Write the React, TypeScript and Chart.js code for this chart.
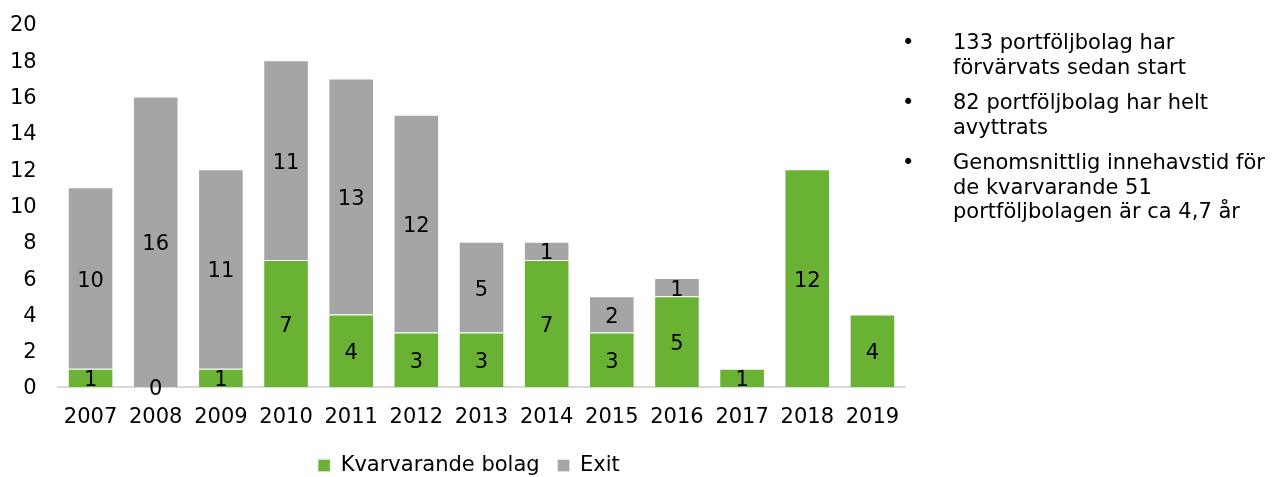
import React, { useEffect, useRef } from "react";
import { Chart, registerables } from "chart.js";

Chart.register(...registerables);

const years = ["2007", "2008", "2009", "2010", "2011", "2012", "2013", "2014", "2015", "2016", "2017", "2018", "2019"];
const kvarvarande = [1, 0, 1, 7, 4, 3, 3, 7, 3, 5, 1, 12, 4];
const exits: (number | null)[] = [10, 16, 11, 11, 13, 12, 5, 1, 2, 1, null, null, null];
const yMin = 0;
const yMax = 20;
const yStep = 2;
const bullets: string[][] = [
  ["133 portföljbolag har", "förvärvats sedan start"],
  ["82 portföljbolag har helt", "avyttrats"],
  ["Genomsnittlig innehavstid för", "de kvarvarande 51", "portföljbolagen är ca 4,7 år"],
];

const FONT = "'DejaVu Sans', Verdana, sans-serif";
const FS = 21;
const GREEN = "#6AB234";
const GREY = "#A5A5A5";

const valueLabels = {
  id: "valueLabels",
  afterDatasetsDraw(chart: any) {
    const ctx = chart.ctx;
    ctx.save();
    ctx.font = `${FS}px ${FONT}`;
    ctx.fillStyle = "#000";
    ctx.textAlign = "center";
    ctx.textBaseline = "middle";
    chart.data.datasets.forEach((ds: any, di: number) => {
      const meta = chart.getDatasetMeta(di);
      meta.data.forEach((el: any, i: number) => {
        const v = ds.data[i];
        if (v === null || v === undefined) return;
        const p = el.getProps(["x", "y", "base"], true);
        ctx.fillText(String(v), p.x, (p.y + p.base) / 2 + 3);
      });
    });
    ctx.restore();
  },
};

export default function App() {
  const ref = useRef<HTMLCanvasElement>(null);
  useEffect(() => {
    if (!ref.current) return;
    const chart = new Chart(ref.current, {
      type: "bar",
      data: {
        labels: years,
        datasets: [
          {
            label: "Kvarvarande bolag",
            data: kvarvarande,
            backgroundColor: GREEN,
            borderColor: "rgba(255,255,255,0.35)",
            borderWidth: 1,
            barPercentage: 0.7,
            categoryPercentage: 1,
          },
          {
            label: "Exit",
            data: exits,
            backgroundColor: GREY,
            borderColor: "rgba(255,255,255,0.35)",
            borderWidth: 1,
            barPercentage: 0.7,
            categoryPercentage: 1,
          },
        ],
      },
      options: {
        animation: false,
        responsive: false,
        maintainAspectRatio: false,
        layout: { padding: { left: 33, right: 10, top: 24, bottom: 0 } },
        plugins: {
          legend: {
            position: "bottom",
            labels: {
              boxWidth: 12,
              boxHeight: 12,
              padding: 18,
              color: "#000",
              font: { family: FONT, size: FS },
            },
          },
          tooltip: { enabled: false },
        },
        scales: {
          x: {
            stacked: true,
            grid: { display: false },
            border: { display: true, color: "#D9D9D9", width: 2 },
            ticks: { color: "#000", font: { family: FONT, size: FS }, padding: 10, maxRotation: 0 },
            afterFit: (s: any) => {
              s.height = 50;
            },
          },
          y: {
            stacked: true,
            min: yMin,
            max: yMax,
            grid: { display: false },
            border: { display: false },
            ticks: {
              color: "#000",
              font: { family: FONT, size: FS },
              stepSize: yStep,
              mirror: true,
              crossAlign: "far",
              padding: -48,
              labelOffset: 2,
            },
            afterFit: (s: any) => {
              s.width = 25;
              s.paddingTop = 0;
              s.paddingBottom = 0;
            },
          },
        },
      },
      plugins: [valueLabels],
    });
    return () => chart.destroy();
  }, []);

  return (
    <div style={{ position: "fixed", left: 0, top: 0, width: 1272, height: 477, overflow: "hidden", background: "#fff" }}>
      <canvas ref={ref} width={915} height={486} style={{ position: "absolute", left: 0, top: 0, width: 915, height: 486 }} />
      <div style={{ position: "absolute", left: 900, top: 30, fontFamily: FONT, fontSize: FS, lineHeight: "24.5px", color: "#000" }}>
        {bullets.map((lines, i) => (
          <div key={i} style={{ position: "relative", marginBottom: 11, whiteSpace: "nowrap" }}>
            <span style={{ position: "absolute", left: 2 }}>•</span>
            <div style={{ marginLeft: 53 }}>
              {lines.map((l, j) => (
                <div key={j}>{l}</div>
              ))}
            </div>
          </div>
        ))}
      </div>
    </div>
  );
}
